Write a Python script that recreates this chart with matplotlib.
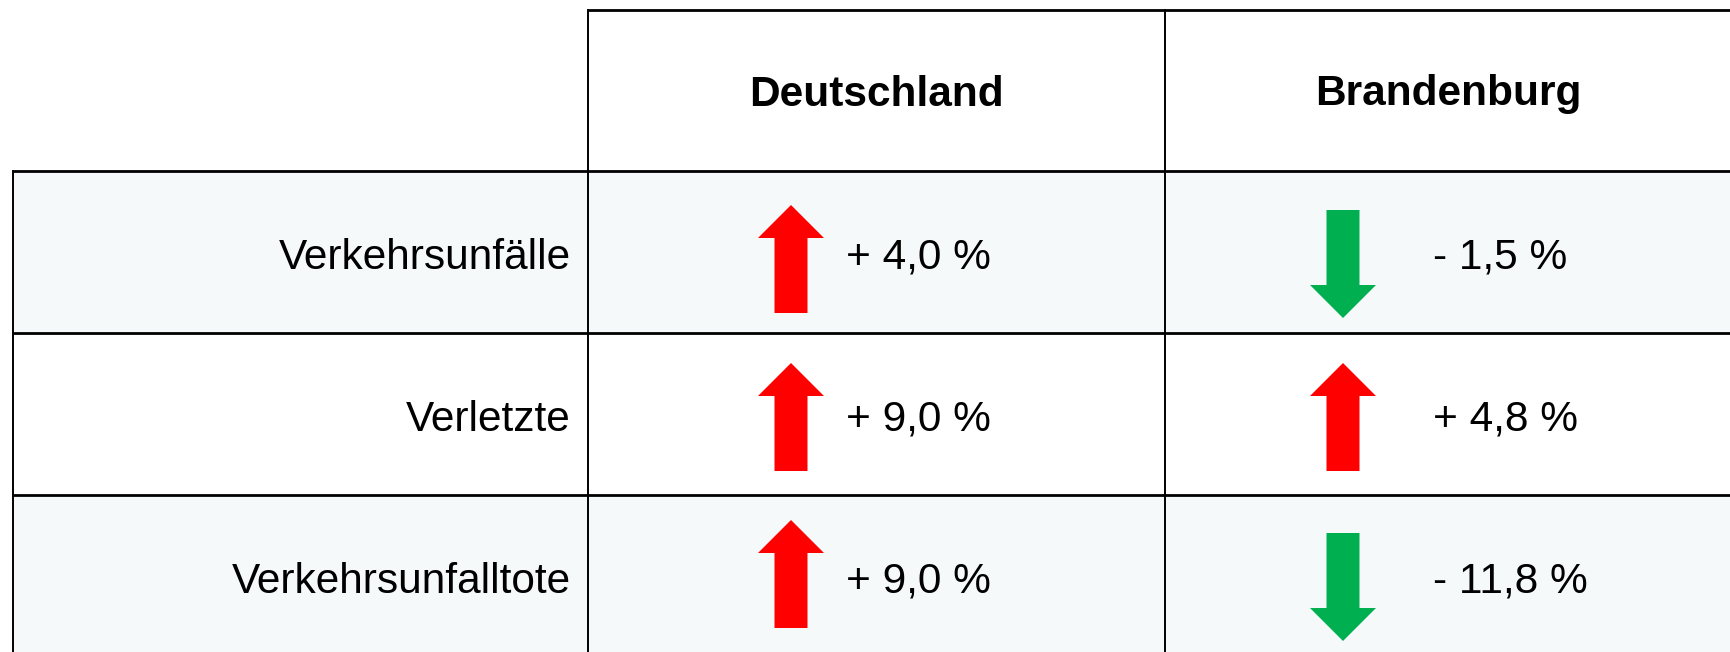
import matplotlib
matplotlib.use("Agg")
import matplotlib.pyplot as plt
from matplotlib.patches import Polygon, Rectangle

# ---- data ----
categories = ["Verkehrsunfälle", "Verletzte", "Verkehrsunfalltote"]
regions = ["Deutschland", "Brandenburg"]
deutschland = [4.0, 9.0, 9.0]
brandenburg = [-1.5, 4.8, -11.8]

# ---- layout (pixels) ----
W, H = 1731, 652
left = 13
col_edges = [588, 1165, W]
top = 10
header_h = 161
row_h = 162
arrow_off = [203, 178]     # arrow centre offset inside column
text_off = [258, 268]      # text left offset inside column
up_top = [34, 30, 25]      # top of up-arrows below row top, per row
down_top = [39, 39, 38]    # top of down-arrows below row top, per row
shaft_w, head_w, head_l, arrow_len = 33, 66, 33, 108
row_bg = ["#F6F9FA", "#FFFFFF", "#F6F9FA"]
UP, DOWN = "#FF0000", "#00B050"
font = "Liberation Sans"
fs = 30.5

fig = plt.figure(figsize=(W / 100, H / 100), dpi=100)
ax = fig.add_axes([0, 0, 1, 1])
ax.set_xlim(0, W)
ax.set_ylim(H, 0)
ax.axis("off")

row_top0 = top + header_h

# backgrounds
for i in range(len(categories)):
    y0 = row_top0 + i * row_h
    ax.add_patch(Rectangle((left, y0), W - left, row_h, facecolor=row_bg[i], edgecolor="none", zorder=0))

# header
for j, reg in enumerate(regions):
    x0, x1 = col_edges[j], col_edges[j + 1]
    ax.text((x0 + x1) / 2, top + header_h / 2 + 4, reg, ha="center", va="center",
            fontsize=fs, fontweight="bold", family=font, color="black")

def arrow(cx, t, up, color):
    b = t + arrow_len
    if up:
        pts = [(cx - shaft_w / 2, b), (cx - shaft_w / 2, t + head_l), (cx - head_w / 2, t + head_l),
               (cx, t), (cx + head_w / 2, t + head_l), (cx + shaft_w / 2, t + head_l), (cx + shaft_w / 2, b)]
    else:
        pts = [(cx - shaft_w / 2, t), (cx - shaft_w / 2, b - head_l), (cx - head_w / 2, b - head_l),
               (cx, b), (cx + head_w / 2, b - head_l), (cx + shaft_w / 2, b - head_l), (cx + shaft_w / 2, t)]
    ax.add_patch(Polygon(pts, closed=True, facecolor=color, edgecolor="none", zorder=2))

def fmt(v):
    s = f"{abs(v):.1f}".replace(".", ",")
    return ("+ " if v >= 0 else "- ") + s + " %"

for i, cat in enumerate(categories):
    y0 = row_top0 + i * row_h
    yc = y0 + row_h / 2
    ax.text(col_edges[0] - 17, yc + 6, cat, ha="right", va="center", fontsize=fs, family=font, color="black")
    for j, vals in enumerate([deutschland, brandenburg]):
        v = vals[i]
        up = v >= 0
        cx = col_edges[j] + arrow_off[j]
        arrow(cx, y0 + (up_top[i] if up else down_top[i]), up, UP if up else DOWN)
        ax.text(col_edges[j] + text_off[j], yc + 6, fmt(v), ha="left", va="center",
                fontsize=fs, family=font, color="black")

# grid lines
lw_h, lw_v = 2.0, 1.4
ax.plot([col_edges[0], W], [top, top], color="black", lw=lw_h, solid_capstyle="butt", zorder=3)
for i in range(len(categories) + 1):
    y = row_top0 + i * row_h
    ax.plot([left, W], [y, y], color="black", lw=lw_h, solid_capstyle="butt", zorder=3)
ax.plot([left, left], [row_top0, H], color="black", lw=lw_v, zorder=3)
for x in col_edges[:2]:
    ax.plot([x, x], [top, H], color="black", lw=lw_v, zorder=3)

fig.savefig("out.png", dpi=100)
